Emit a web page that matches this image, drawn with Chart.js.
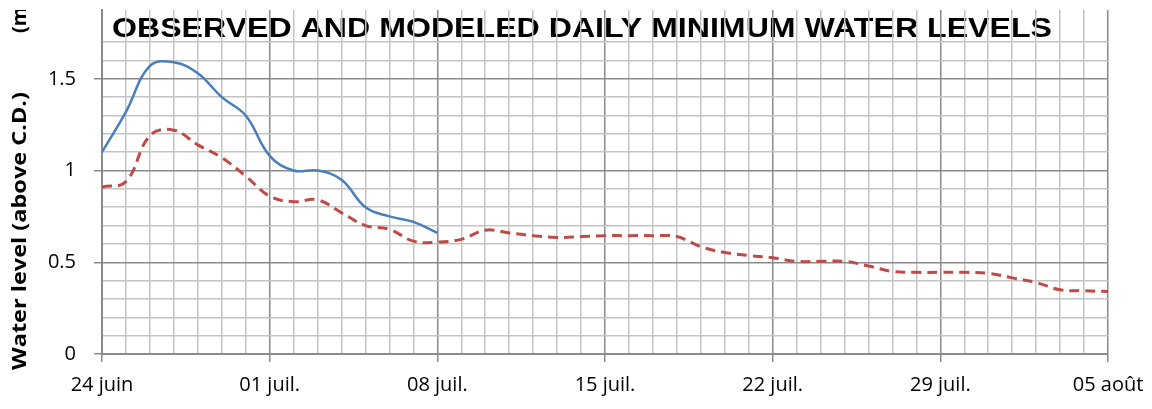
<!DOCTYPE html>
<html>
<head>
<meta charset="utf-8">
<script src="https://cdn.jsdelivr.net/npm/chart.js@4.4.1/dist/chart.umd.min.js"></script>
<style>
  html, body { margin: 0; padding: 0; background: #fff; }
  #wrap { width: 1152px; height: 409px; position: relative; }
</style>
</head>
<body>
<div id="wrap"><canvas id="levelChart"></canvas></div>
<script>
// x is days since 24 juin; one label every 7 days
const tickLabels = ['24 juin', '01 juil.', '08 juil.', '15 juil.', '22 juil.', '29 juil.', '05 août'];

// observed daily minimum (24 juin .. 08 juil.)
const observed = [1.10, 1.32, 1.57, 1.59, 1.53, 1.40, 1.30, 1.08, 1.00, 1.00, 0.95, 0.80, 0.75, 0.72, 0.66];

// modeled daily minimum (24 juin .. 05 août)
const modeled = [
  0.91, 0.94, 1.19, 1.22, 1.14, 1.07, 0.97, 0.86, 0.83, 0.84,
  0.77, 0.70, 0.68, 0.615, 0.61, 0.625, 0.675, 0.66, 0.645, 0.635,
  0.64, 0.645, 0.645, 0.645, 0.64, 0.585, 0.553, 0.537, 0.525, 0.505,
  0.505, 0.505, 0.48, 0.45, 0.445, 0.445, 0.445, 0.44, 0.415, 0.39,
  0.35, 0.345, 0.34
];

const titleText = 'OBSERVED AND MODELED DAILY MINIMUM WATER LEVELS';
const yTitle = 'Water level (above C.D.)';
const yUnit = '(m)';

const MAJOR = '#8a8a8a';
const MINOR = '#c4c4c4';

function toPoints(arr) {
    return arr.map((v, i) => ({ x: i, y: v }));
}

function isMajorY(v) {
    return Math.round(v * 10) % 5 === 0;
}

// title sits under the grid, axis label on top of everything
const decorations = {
    id: 'decorations',
    beforeDraw(chart) {
        const ctx = chart.ctx;
        ctx.save();
        ctx.font = 'bold 27px "Liberation Sans"';
        ctx.fillStyle = '#000';
        ctx.textBaseline = 'alphabetic';
        const w = ctx.measureText(titleText).width;
        ctx.translate(112, 37);
        ctx.scale(940 / w, 1);
        ctx.fillText(titleText, 0, 0);
        ctx.restore();
    },
    afterDraw(chart) {
        const ctx = chart.ctx;
        ctx.save();
        ctx.beginPath();
        ctx.rect(0, 10, 60, 400);
        ctx.clip();
        ctx.font = 'bold 20px "Open Sans"';
        ctx.fillStyle = '#000';
        ctx.textBaseline = 'alphabetic';
        ctx.translate(26, 370);
        ctx.rotate(-Math.PI / 2);
        const w = ctx.measureText(yTitle).width;
        ctx.save();
        ctx.scale(278 / w, 1);
        ctx.fillText(yTitle, 0, 0);
        ctx.restore();
        ctx.fillText(yUnit, 337, 0);
        ctx.restore();
    }
};

new Chart(document.getElementById('levelChart'), {
    type: 'line',
    data: {
        datasets: [{
            label: 'Observed',
            data: toPoints(observed),
            borderColor: '#4a7ebb',
            borderWidth: 2.5,
            pointRadius: 0,
            tension: 0.4,
            fill: false
        }, {
            label: 'Modeled',
            data: toPoints(modeled),
            borderColor: '#be4b48',
            borderWidth: 3,
            borderDash: [10, 6],
            pointRadius: 0,
            tension: 0.4,
            fill: false
        }]
    },
    options: {
        responsive: true,
        maintainAspectRatio: false,
        animation: false,
        devicePixelRatio: 1,
        layout: { padding: { top: 10, right: 44, left: 0, bottom: 0 } },
        plugins: {
            legend: { display: false },
            tooltip: { enabled: false }
        },
        scales: {
            x: {
                type: 'linear',
                min: 0,
                max: 42,
                afterFit(scale) {
                    scale.height = 55;
                    scale.paddingLeft = 0;
                    scale.paddingRight = 0;
                },
                ticks: {
                    stepSize: 1,
                    autoSkip: false,
                    maxRotation: 0,
                    padding: 11,
                    color: '#000',
                    font: { family: 'Open Sans', size: 20 },
                    callback: v => (v % 7 === 0 ? tickLabels[v / 7] : '')
                },
                grid: {
                    color: c => (c.tick && c.tick.value % 7 === 0 ? MAJOR : MINOR),
                    tickColor: c => (c.tick && c.tick.value % 7 === 0 ? MAJOR : 'rgba(0,0,0,0)'),
                    lineWidth: 1.5,
                    tickLength: 8
                },
                border: { color: MAJOR, width: 2 }
            },
            y: {
                min: 0,
                max: 1.875,
                afterFit(scale) {
                    scale.width = 102;
                    scale.paddingTop = 0;
                    scale.paddingBottom = 0;
                },
                afterBuildTicks(scale) {
                    scale.ticks = scale.ticks.filter(t => Math.abs(t.value * 10 - Math.round(t.value * 10)) < 1e-6);
                },
                ticks: {
                    stepSize: 0.1,
                    autoSkip: false,
                    padding: 18,
                    color: '#000',
                    font: { family: 'Open Sans', size: 20 },
                    callback: v => (isMajorY(v) ? String(Math.round(v * 10) / 10) : '')
                },
                grid: {
                    color: c => (c.tick && isMajorY(c.tick.value) ? MAJOR : MINOR),
                    tickColor: c => (c.tick && isMajorY(c.tick.value) ? MAJOR : 'rgba(0,0,0,0)'),
                    lineWidth: 1.5,
                    tickLength: 8
                },
                border: { color: MAJOR, width: 2 }
            }
        }
    },
    plugins: [decorations]
});
</script>
</body>
</html>
